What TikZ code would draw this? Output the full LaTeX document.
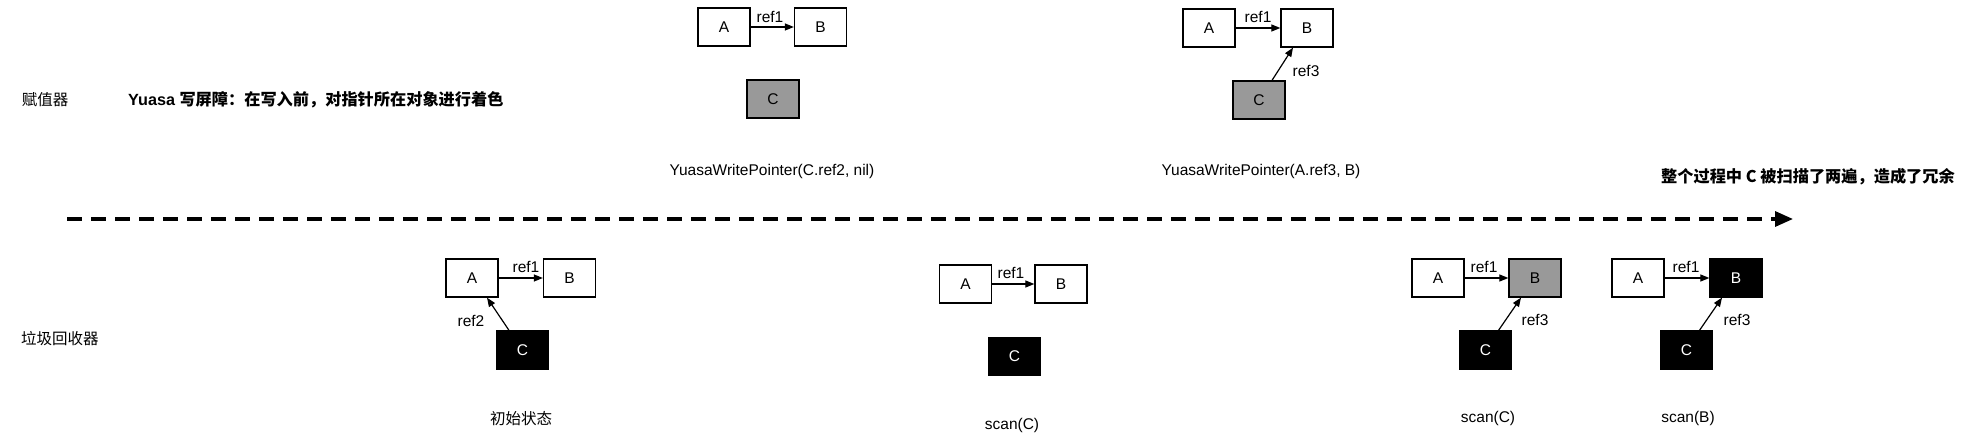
\documentclass[tikz,border=0pt]{standalone}
\usepackage{fontspec}
\setmainfont{Liberation Sans}
\newfontfamily\cjk{Noto Sans CJK SC}
\usetikzlibrary{arrows.meta}
\definecolor{midgray}{HTML}{999999}
\begin{document}
\begin{tikzpicture}[x=1pt,y=-1pt,
  font=\fontsize{15.5}{18}\selectfont,
  obj/.style={draw=black,line width=1.3pt,minimum width=52pt,minimum height=38pt,inner sep=0pt,fill=white},
  grayobj/.style={obj,fill=midgray},
  blackobj/.style={obj,fill=black,text=white},
  refarrow/.style={-{Triangle[length=9pt,width=7pt]},line width=1.2pt},
  lbl/.style={inner sep=0pt},
  boldlbl/.style={inner sep=0pt,font=\fontsize{16.2}{19}\selectfont\bfseries},
  timeline/.style={line width=3.3pt,dash pattern=on 15pt off 9pt,-{Triangle[length=18pt,width=15pt]}},
]
\useasboundingbox (0,0) rectangle (1962,438);

% side labels
\node[lbl] (mut) at (45,100) {\cjk 赋值器};
\node[lbl,anchor=west] (gc) at (21,339) {\cjk 垃圾回收器};
\node[boldlbl,anchor=west] (desc) at (128,100) {Yuasa {\cjk\bfseries 写屏障：在写入前，对指针所在对象进行着色}};
\node[boldlbl,anchor=east] (concl) at (1955,177) {\cjk\bfseries 整个过程中 C 被扫描了两遍，造成了冗余};

% timeline
\coordinate (tstart) at (67,219);
\coordinate (tend) at (1793,219);
\draw[timeline] (tstart) -- (tend);

% top group 1
\node[obj] (a1) at (724,27) {A};
\node[obj] (b1) at (820.5,27) {B};
\node[grayobj] (c1) at (773,99) {C};
\draw[refarrow] (a1) -- (b1);
\node[lbl] (r11) at (770,17) {ref1};
\node[lbl] (s1) at (772,171) {YuasaWritePointer(C.ref2, nil)};

% top group 2
\node[obj] (a2) at (1209,28) {A};
\node[obj] (b2) at (1307,28) {B};
\node[grayobj] (c2) at (1259,100) {C};
\draw[refarrow] (a2) -- (b2);
\draw[refarrow] ([xshift=13pt]c2.north) -- ([xshift=-14pt]b2.south);
\node[lbl] (r21) at (1258,17) {ref1};
\node[lbl] (r23) at (1306,71) {ref3};
\node[lbl] (s2) at (1261,171) {YuasaWritePointer(A.ref3, B)};

% bottom group 3
\node[obj] (a3) at (472,278) {A};
\node[obj] (b3) at (569.5,278) {B};
\node[blackobj] (c3) at (522.5,350) {C};
\draw[refarrow] (a3) -- (b3);
\draw[refarrow] ([xshift=-13.5pt]c3.north) -- ([xshift=15pt]a3.south);
\node[lbl] (r31) at (526,267) {ref1};
\node[lbl] (r32) at (471,321) {ref2};
\node[lbl] (s3) at (521,419) {\cjk 初始状态};

% bottom group 4
\node[obj] (a4) at (965.5,284) {A};
\node[obj] (b4) at (1061,284) {B};
\node[blackobj] (c4) at (1014.5,356.5) {C};
\draw[refarrow] (a4) -- (b4);
\node[lbl] (r41) at (1011,273) {ref1};
\node[lbl] (s4) at (1012,425) {scan(C)};

% bottom group 5
\node[obj] (a5) at (1438,278) {A};
\node[grayobj] (b5) at (1535,278) {B};
\node[blackobj] (c5) at (1485.5,350) {C};
\draw[refarrow] (a5) -- (b5);
\draw[refarrow] ([xshift=13pt]c5.north) -- ([xshift=-14pt]b5.south);
\node[lbl] (r51) at (1484,267) {ref1};
\node[lbl] (r53) at (1535,320) {ref3};
\node[lbl] (s5) at (1488,418) {scan(C)};

% bottom group 6
\node[obj] (a6) at (1638,278) {A};
\node[blackobj] (b6) at (1736,278) {B};
\node[blackobj] (c6) at (1686.5,350) {C};
\draw[refarrow] (a6) -- (b6);
\draw[refarrow] ([xshift=13pt]c6.north) -- ([xshift=-14pt]b6.south);
\node[lbl] (r61) at (1686,267) {ref1};
\node[lbl] (r63) at (1737,320) {ref3};
\node[lbl] (s6) at (1688,418) {scan(B)};
\end{tikzpicture}
\end{document}
